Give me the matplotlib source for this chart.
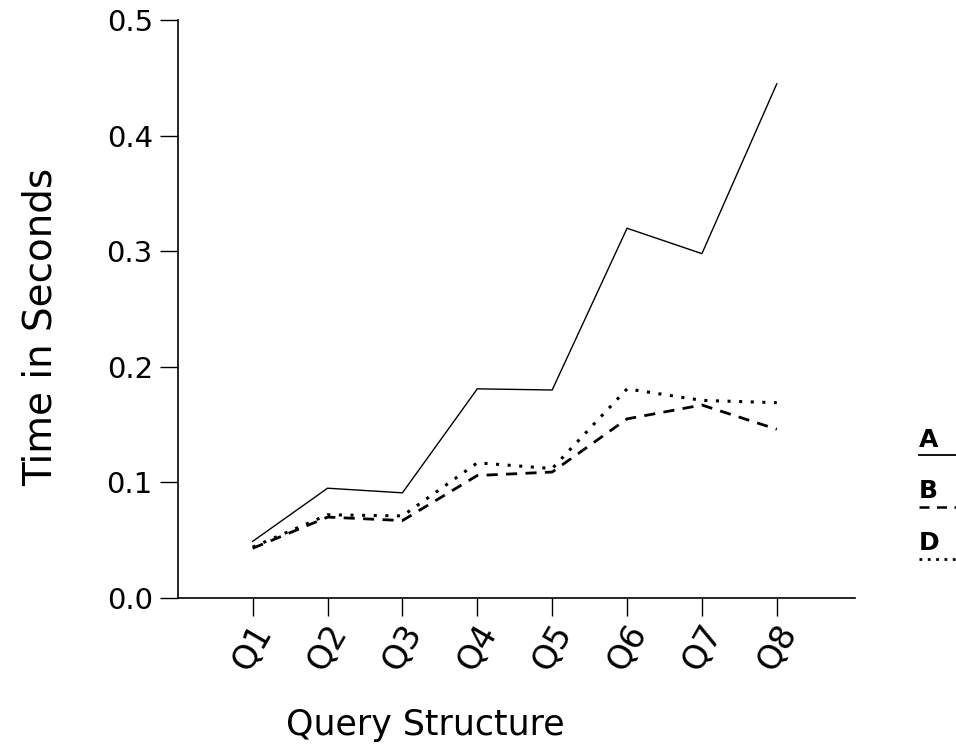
import matplotlib
matplotlib.use("Agg")
import matplotlib.pyplot as plt
from matplotlib.lines import Line2D

queries = ['Q1', 'Q2', 'Q3', 'Q4', 'Q5', 'Q6', 'Q7', 'Q8']
series_a = [0.049, 0.095, 0.091, 0.181, 0.180, 0.320, 0.298, 0.445]
series_b = [0.043, 0.070, 0.067, 0.106, 0.109, 0.155, 0.167, 0.146]
series_d = [0.044, 0.072, 0.071, 0.117, 0.112, 0.181, 0.171, 0.169]

plt.rcParams['font.family'] = ['DejaVu Sans']

fig = plt.figure(figsize=(9.56, 7.5), dpi=100)
ax = fig.add_axes([0.186, 0.2027, 0.708, 0.7703])

x = list(range(1, len(queries) + 1))
ax.plot(x, series_a, color='black', linestyle='-', linewidth=1.0)
ax.plot(x, series_b, color='black', linestyle=(0, (4, 3)), linewidth=2.0)
ax.plot(x, series_d, color='black', linestyle=(0, (1, 2.8)), linewidth=2.2)

ax.set_xlim(0, 9.04)
ax.set_ylim(0, 0.5)
ax.set_yticks([0.0, 0.1, 0.2, 0.3, 0.4, 0.5])
ax.set_yticklabels(['0.0', '0.1', '0.2', '0.3', '0.4', '0.5'], fontsize=21)
ax.set_xticks(x)
ax.set_xticklabels(queries, fontsize=24, rotation=60, ha='center', va='top')

for side in ['top', 'right']:
    ax.spines[side].set_visible(False)
for side in ['left', 'bottom']:
    ax.spines[side].set_linewidth(1.2)
ax.tick_params(axis='both', direction='out', length=13, width=1.0, color='black')
ax.tick_params(axis='x', pad=2)
ax.tick_params(axis='y', pad=5)

ax.set_ylabel('Time in Seconds', fontsize=28)
ax.yaxis.set_label_coords(-0.175, 0.47)
ax.set_xlabel('Query Structure', fontsize=25)
ax.xaxis.set_label_coords(0.365, -0.19)

# legend at right: letter with line sample underneath
legend_items = [('A', '-', 1.3), ('B', (0, (4, 3)), 1.8), ('D', (0, (1, 2)), 2.0)]
text_bottoms = [447, 498, 550]
line_rows = [455, 507, 559]
for (name, ls, lw), yb, yl in zip(legend_items, text_bottoms, line_rows):
    fig.text(919 / 956, 1 - yb / 750, name, fontsize=18, fontweight='bold',
             ha='left', va='baseline')
    fig.add_artist(Line2D([919 / 956, 956 / 956], [1 - yl / 750, 1 - yl / 750],
                          color='black', linestyle=ls, linewidth=lw,
                          transform=fig.transFigure))

fig.savefig('out.png', dpi=100)
